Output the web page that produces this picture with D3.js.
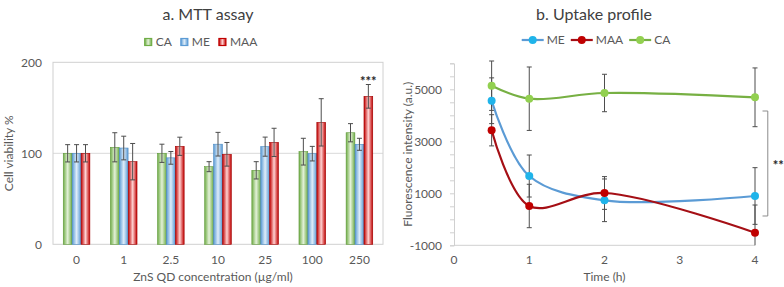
<!DOCTYPE html>
<html>
<head>
<meta charset="utf-8">
<script src="https://cdn.jsdelivr.net/npm/d3@7"></script>
<style>
	body { margin: 0; background: #fff; }
	text { font-family: Lato, "Noto Sans", sans-serif; fill: #595959; }
</style>
</head>
<body>
<div id="chart"></div>
<script>
// ###
// DATA
// ###

// a. MTT assay
const concentrations = ['0', '1', '2.5', '10', '25', '100', '250'];
const barSeries = ['CA', 'ME', 'MAA'];
const caViability = [100, 106.6, 100, 85.3, 81.3, 101.8, 122.6];
const caViabilityErr = [9.5, 16, 10, 5.5, 9.5, 14.7, 10];
const meViability = [100, 105.8, 95, 110, 107.3, 99.6, 109.9];
const meViabilityErr = [9.5, 13, 7, 13, 10.5, 8, 6.6];
const maaViability = [100, 90.8, 107.7, 98.9, 112, 134, 162.6];
const maaViabilityErr = [9.5, 20, 10, 13, 15.5, 26, 13];
const viabilityTicks = [0, 100, 200];

// b. Uptake profile
const hours = [0.5, 1, 2, 4];
const lineSeries = ['ME', 'MAA', 'CA'];
const meUptake = [4560, 1665, 731, 896];
const meUptakeErr = [880, 808, 820, 1090];
const maaUptake = [3423, 512, 1012, -515];
const maaUptakeErr = [600, 835, 630, 1065];
const caUptake = [5138, 4638, 4858, 4692];
const caUptakeErr = [950, 1220, 720, 1130];
const uptakeTicks = [-1000, 1000, 3000, 5000];
const timeTicks = [0, 1, 2, 3, 4];

const width = 784, height = 287;

const svg = d3.select('#chart').append('svg')
	.attr('width', width)
	.attr('height', height);

const defs = svg.append('defs');

// horizontal gradients for the bars (Excel style)
const barColors = {
	CA: { edge: '#70ad47', mid: '#e3f1d8', stroke: '#5f9a3a' },
	ME: { edge: '#5b9bd5', mid: '#dfedf9', stroke: '#4a89c2' },
	MAA: { edge: '#c00000', mid: '#ffd2d2', stroke: '#a00000' }
};
barSeries.forEach(s => {
	const g = defs.append('linearGradient')
		.attr('id', `grad-${s}`)
		.attr('x1', 0).attr('x2', 1).attr('y1', 0).attr('y2', 0);
	g.append('stop').attr('offset', '0%').attr('stop-color', barColors[s].edge);
	g.append('stop').attr('offset', '50%').attr('stop-color', barColors[s].mid);
	g.append('stop').attr('offset', '100%').attr('stop-color', barColors[s].edge);
});

// ###
// A. MTT ASSAY (grouped bars)
// ###

const barData = {
	CA: { v: caViability, e: caViabilityErr },
	ME: { v: meViability, e: meViabilityErr },
	MAA: { v: maaViability, e: maaViabilityErr }
};

const a = { left: 53, right: 383, top: 62.3, bottom: 244.3 };

const x0 = d3.scaleBand()
	.domain(concentrations)
	.range([a.left, a.right]);

const x1 = d3.scaleBand()
	.domain(barSeries)
	.range([0, x0.bandwidth()])
	.paddingInner(0.02)
	.paddingOuter(1.15);

const yA = d3.scaleLinear()
	.domain([0, 200])
	.range([a.bottom, a.top]);

const chartA = svg.append('g').classed('chart-a', true);

// gridline at 100 and plot frame
chartA.append('g')
	.selectAll('line')
	.data(viabilityTicks.filter(t => t > 0 && t < 200))
	.join('line')
	.attr('x1', a.left).attr('x2', a.right)
	.attr('y1', d => yA(d)).attr('y2', d => yA(d))
	.attr('stroke', '#d9d9d9');

chartA.append('rect')
	.attr('x', a.left).attr('y', a.top)
	.attr('width', a.right - a.left).attr('height', a.bottom - a.top)
	.attr('fill', 'none')
	.attr('stroke', '#d0d0d0');

// y tick labels
chartA.append('g')
	.selectAll('text')
	.data(viabilityTicks)
	.join('text')
	.attr('x', a.left - 11)
	.attr('y', d => yA(d))
	.attr('dy', '0.35em')
	.attr('text-anchor', 'end')
	.style('font-size', '12px')
	.text(d => d);

// x tick labels
chartA.append('g')
	.selectAll('text')
	.data(concentrations)
	.join('text')
	.attr('x', d => x0(d) + x0.bandwidth() / 2)
	.attr('y', 264)
	.attr('text-anchor', 'middle')
	.style('font-size', '12px')
	.text(d => d);

const groups = chartA.append('g')
	.selectAll('g')
	.data(concentrations)
	.join('g')
	.attr('transform', d => `translate(${x0(d)},0)`);

const bars = groups.selectAll('g')
	.data((d, i) => barSeries.map(s => ({ s, v: barData[s].v[i], e: barData[s].e[i] })))
	.join('g');

bars.append('rect')
	.attr('x', d => x1(d.s))
	.attr('y', d => yA(d.v))
	.attr('width', x1.bandwidth())
	.attr('height', d => yA(0) - yA(d.v))
	.attr('fill', d => `url(#grad-${d.s})`)
	.attr('stroke', d => barColors[d.s].stroke)
	.attr('stroke-width', 0.6);

const errColor = '#4d4d4d';
bars.append('line')
	.attr('x1', d => x1(d.s) + x1.bandwidth() / 2)
	.attr('x2', d => x1(d.s) + x1.bandwidth() / 2)
	.attr('y1', d => yA(d.v + d.e))
	.attr('y2', d => yA(d.v - d.e))
	.attr('stroke', errColor);
[1, -1].forEach(sign => {
	bars.append('line')
		.attr('x1', d => x1(d.s) + x1.bandwidth() / 2 - 2.5)
		.attr('x2', d => x1(d.s) + x1.bandwidth() / 2 + 2.5)
		.attr('y1', d => yA(d.v + sign * d.e))
		.attr('y2', d => yA(d.v + sign * d.e))
		.attr('stroke', errColor);
});

// significance mark on the 250 MAA bar
const last = concentrations.length - 1;
chartA.append('text')
	.attr('x', x0(concentrations[last]) + x1('MAA') + x1.bandwidth() / 2)
	.attr('y', yA(maaViability[last] + maaViabilityErr[last]) + 1)
	.attr('text-anchor', 'middle')
	.style('font-size', '13px')
	.style('font-weight', 'bold')
	.style('fill', '#262626')
	.text('***');

// titles
chartA.append('text')
	.attr('x', 208).attr('y', 20)
	.attr('text-anchor', 'middle')
	.style('font-size', '16px')
	.style('fill', '#404040')
	.text('a. MTT assay');

chartA.append('text')
	.attr('x', 213).attr('y', 281)
	.attr('text-anchor', 'middle')
	.style('font-size', '12px')
	.text('ZnS QD concentration (µg/ml)');

chartA.append('text')
	.attr('transform', `translate(13, ${(a.top + a.bottom) / 2}) rotate(-90)`)
	.attr('text-anchor', 'middle')
	.style('font-size', '12px')
	.text('Cell viability %');

// legend
const legA = chartA.append('g').attr('transform', 'translate(0, 42)');
let lx = 0;
barSeries.forEach(s => {
	const item = legA.append('g').attr('transform', `translate(${lx},0)`);
	item.append('rect')
		.attr('x', 0).attr('y', -3.5)
		.attr('width', 7).attr('height', 7)
		.attr('fill', `url(#grad-${s})`)
		.attr('stroke', barColors[s].edge)
		.attr('stroke-width', 1.2);
	const t = item.append('text')
		.attr('x', 11)
		.attr('dy', '0.35em')
		.style('font-size', '12px')
		.text(s);
	lx += 11 + t.node().getComputedTextLength() + 9;
});
legA.attr('transform', `translate(${201 - (lx - 9) / 2}, 42)`);

// ###
// B. UPTAKE PROFILE (smoothed lines)
// ###

const lineData = {
	ME: { v: meUptake, e: meUptakeErr, line: '#5b9bd5', marker: '#1fb4ea' },
	MAA: { v: maaUptake, e: maaUptakeErr, line: '#a50f15', marker: '#c00000' },
	CA: { v: caUptake, e: caUptakeErr, line: '#77b043', marker: '#92d050' }
};

const b = { left: 454, right: 755, top: 63.3, bottom: 245.3 };

const xB = d3.scaleLinear()
	.domain([0, 4])
	.range([b.left, b.right]);

const yB = d3.scaleLinear()
	.domain([-1000, 6000])
	.range([b.bottom, b.top]);

const chartB = svg.append('g').classed('chart-b', true);

// y axis with minor ticks every 500, labels every 2000
const yAxisB = d3.axisLeft(yB)
	.tickValues(d3.range(-1000, 6001, 500))
	.tickSize(4)
	.tickFormat(d => uptakeTicks.includes(d) ? d : '');

const yAxisG = chartB.append('g')
	.attr('transform', `translate(${b.left},0)`)
	.call(yAxisB);
yAxisG.select('.domain').attr('stroke', '#d0d0d0');
yAxisG.selectAll('.tick line').attr('stroke', '#d0d0d0');
yAxisG.selectAll('.tick text')
	.attr('x', -12)
	.style('font-size', '12px')
	.style('font-family', null)
	.attr('fill', null);

chartB.append('line')
	.attr('x1', b.left).attr('x2', b.right)
	.attr('y1', b.bottom).attr('y2', b.bottom)
	.attr('stroke', '#d0d0d0');

chartB.append('g')
	.selectAll('text')
	.data(timeTicks)
	.join('text')
	.attr('x', d => xB(d))
	.attr('y', 264)
	.attr('text-anchor', 'middle')
	.style('font-size', '12px')
	.text(d => d);

// error bars (clipped at the plot bottom like Excel)
const clampY = v => yB(Math.max(v, -1000));
lineSeries.forEach(s => {
	const d = lineData[s];
	const g = chartB.append('g').classed(`err-${s}`, true);
	hours.forEach((h, i) => {
		const cx = xB(h), hi = d.v[i] + d.e[i], lo = d.v[i] - d.e[i];
		g.append('line')
			.attr('x1', cx).attr('x2', cx)
			.attr('y1', clampY(hi)).attr('y2', clampY(lo))
			.attr('stroke', errColor);
		[hi, lo].filter(v => v >= -1000).forEach(v => {
			g.append('line')
				.attr('x1', cx - 2.5).attr('x2', cx + 2.5)
				.attr('y1', yB(v)).attr('y2', yB(v))
				.attr('stroke', errColor);
		});
	});
});

const line = d3.line()
	.curve(d3.curveCatmullRom.alpha(0.5))
	.x(d => xB(d[0]))
	.y(d => yB(d[1]));

lineSeries.forEach(s => {
	const d = lineData[s];
	const pts = hours.map((h, i) => [h, d.v[i]]);
	chartB.append('path')
		.datum(pts)
		.attr('d', line)
		.attr('fill', 'none')
		.attr('stroke', d.line)
		.attr('stroke-width', 2.2)
		.attr('stroke-linecap', 'round');
	chartB.append('g')
		.selectAll('circle')
		.data(pts)
		.join('circle')
		.attr('cx', p => xB(p[0]))
		.attr('cy', p => yB(p[1]))
		.attr('r', 4)
		.attr('fill', d.marker);
});

// significance bracket at 4 h
const bracketX = [4.1, 4.17];
const bracketY = [4165, 127];
chartB.append('path')
	.attr('d', `M${xB(bracketX[0])},${yB(bracketY[0])}H${xB(bracketX[1])}V${yB(bracketY[1])}H${xB(bracketX[0])}`)
	.attr('fill', 'none')
	.attr('stroke', '#8c8c8c');
chartB.append('text')
	.attr('x', xB(bracketX[1]) + 5)
	.attr('y', yB((bracketY[0] + bracketY[1]) / 2) + 6)
	.style('font-size', '13px')
	.style('font-weight', 'bold')
	.style('fill', '#262626')
	.text('**');

// titles
chartB.append('text')
	.attr('x', 594).attr('y', 20)
	.attr('text-anchor', 'middle')
	.style('font-size', '16px')
	.style('fill', '#404040')
	.text('b. Uptake profile');

chartB.append('text')
	.attr('x', xB(2)).attr('y', 281)
	.attr('text-anchor', 'middle')
	.style('font-size', '12px')
	.text('Time (h)');

chartB.append('text')
	.attr('transform', `translate(412, ${(b.top + b.bottom) / 2}) rotate(-90)`)
	.attr('text-anchor', 'middle')
	.style('font-size', '12px')
	.text('Fluorescence intensity (a.u.)');

// legend
const legB = chartB.append('g');
let bx = 0;
lineSeries.forEach(s => {
	const d = lineData[s];
	const item = legB.append('g').attr('transform', `translate(${bx},0)`);
	item.append('line')
		.attr('x1', 0).attr('x2', 22)
		.attr('stroke', d.line)
		.attr('stroke-width', 2.2);
	item.append('circle')
		.attr('cx', 11).attr('r', 4)
		.attr('fill', d.marker);
	const t = item.append('text')
		.attr('x', 25)
		.attr('dy', '0.35em')
		.style('font-size', '12px')
		.text(s);
	bx += 25 + t.node().getComputedTextLength() + 6;
});
legB.attr('transform', `translate(${596 - (bx - 6) / 2}, 40)`);
</script>
</body>
</html>
